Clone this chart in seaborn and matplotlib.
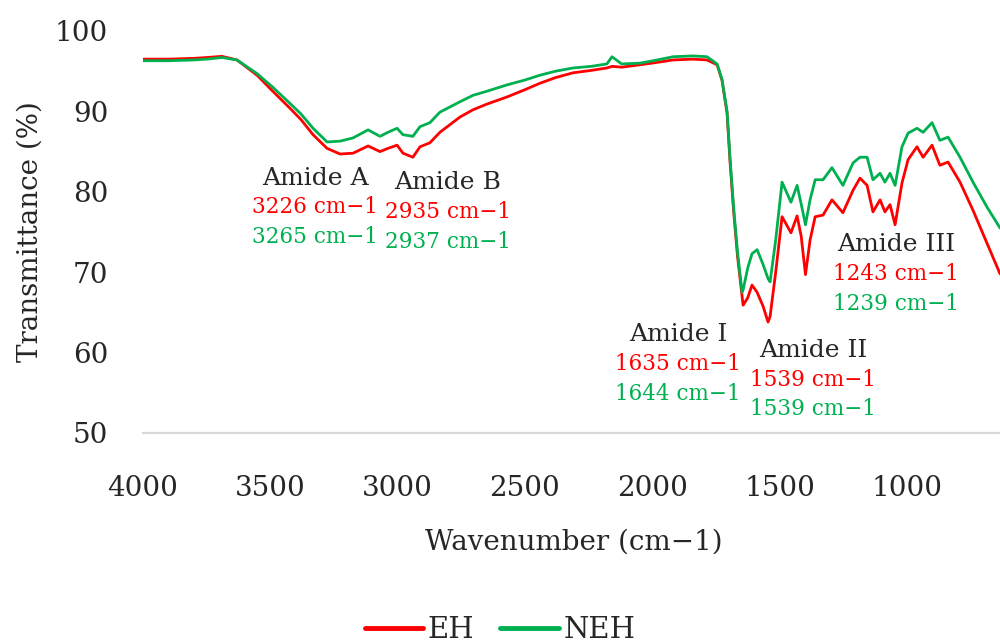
import matplotlib
matplotlib.use("Agg")
import matplotlib.pyplot as plt
import seaborn as sns
import pandas as pd

# ---- data ----
wavenumber = [4000, 3900, 3800, 3750, 3690, 3631, 3552, 3490, 3423, 3380, 3332, 3277, 3226, 3175,
              3116, 3069, 3038, 3002, 2979, 2940, 2912, 2873, 2834, 2755, 2704, 2650, 2570, 2500,
              2441, 2380, 2311, 2240, 2178, 2158, 2120, 2048, 1980, 1918, 1840, 1785, 1745, 1726,
              1706, 1694, 1680, 1665, 1647, 1643, 1625, 1608, 1588, 1565, 1545, 1537, 1515, 1490,
              1455, 1431, 1415, 1398, 1380, 1360, 1329, 1294, 1251, 1211, 1184, 1156, 1133, 1105,
              1086, 1066, 1046, 1019, 995, 960, 936, 901, 870, 838, 791, 740, 685, 634]

eh = [96.5, 96.5, 96.6, 96.7, 96.85, 96.4, 94.5, 92.5, 90.4, 89.0, 87.1, 85.4, 84.7, 84.8,
      85.7, 85.0, 85.4, 85.8, 84.8, 84.3, 85.6, 86.1, 87.4, 89.3, 90.2, 90.9, 91.8, 92.7,
      93.5, 94.2, 94.8, 95.1, 95.4, 95.6, 95.5, 95.8, 96.1, 96.4, 96.5, 96.4, 95.8, 93.9,
      89.8, 83.6, 77.5, 72.0, 67.0, 65.9, 66.8, 68.4, 67.5, 65.8, 63.8, 64.5, 70.0, 76.9,
      74.9, 77.0, 74.5, 69.7, 74.0, 76.9, 77.1, 79.0, 77.4, 80.2, 81.7, 80.8, 77.5, 79.0,
      77.5, 78.4, 75.9, 81.1, 84.0, 85.6, 84.3, 85.8, 83.3, 83.7, 81.2, 77.7, 73.6, 69.8]

neh = [96.3, 96.3, 96.4, 96.5, 96.7, 96.4, 94.7, 93.0, 91.0, 89.7, 87.9, 86.2, 86.3, 86.7,
       87.7, 86.9, 87.4, 87.9, 87.1, 86.9, 88.1, 88.6, 89.9, 91.2, 92.0, 92.5, 93.3, 93.9,
       94.5, 95.0, 95.4, 95.6, 95.9, 96.8, 95.9, 96.0, 96.4, 96.8, 96.9, 96.8, 95.9, 94.0,
       90.0, 84.0, 78.0, 72.5, 67.5, 67.8, 70.5, 72.3, 72.8, 71.0, 69.2, 68.8, 74.0, 81.2,
       78.7, 80.8, 78.5, 75.9, 79.0, 81.5, 81.5, 83.0, 80.8, 83.6, 84.3, 84.3, 81.5, 82.3,
       81.2, 82.3, 80.8, 85.6, 87.3, 87.9, 87.4, 88.6, 86.4, 86.8, 84.3, 81.2, 78.1, 75.5]

series_names = ["EH", "NEH"]
x_ticks = [4000, 3500, 3000, 2500, 2000, 1500, 1000]
y_ticks = [50, 60, 70, 80, 90, 100]

# annotation blocks: (title, red text, green text, x, y of title)
annot_titles = ["Amide A", "Amide B", "Amide I", "Amide II", "Amide III"]
annot_eh = ["3226 cm\u22121", "2935 cm\u22121", "1635 cm\u22121", "1539 cm\u22121", "1243 cm\u22121"]
annot_neh = ["3265 cm\u22121", "2937 cm\u22121", "1644 cm\u22121", "1539 cm\u22121", "1239 cm\u22121"]
annot_x = [3324, 2802, 1899, 1368, 1042]
annot_y = [81.7, 81.1, 62.2, 60.3, 73.4]

RED = "#ff0000"
GREEN = "#00b050"

df = pd.DataFrame({
    "wavenumber": wavenumber * 2,
    "T": eh + neh,
    "sample": [series_names[0]] * len(eh) + [series_names[1]] * len(neh),
})

sns.set_style("white")
plt.rcParams["font.family"] = ["DejaVu Serif"]

fig = plt.figure(figsize=(10, 6.43), dpi=100)
ax = fig.add_axes([0.143, 1 - 433 / 643, 0.857, (433 - 31) / 643])

sns.lineplot(data=df, x="wavenumber", y="T", hue="sample",
             palette={"EH": RED, "NEH": GREEN}, estimator=None,
             linewidth=2.0, ax=ax)

ax.set_xlim(4000, 634)
ax.set_ylim(50, 100)
ax.set_xticks(x_ticks)
ax.set_yticks(y_ticks)
ax.tick_params(axis="x", length=0, pad=30, labelsize=20, colors="#262626")
ax.tick_params(axis="y", length=0, pad=25, labelsize=20, colors="#262626")
for s in ["top", "right", "left"]:
    ax.spines[s].set_visible(False)
ax.spines["bottom"].set_color("#d9d9d9")
ax.spines["bottom"].set_linewidth(1.6)
ax.set_xlabel("")
ax.set_ylabel("")
ax.grid(False)

# axis titles
fig.text(0.574, 1 - 542 / 643, "Wavenumber (cm\u22121)", ha="center", va="center",
         fontsize=20, color="#262626")
fig.text(0.030, 1 - 232 / 643, "Transmittance (%)", ha="center", va="center",
         rotation=90, fontsize=20, color="#262626")

# annotations
dy_line = 3.65
for t, r, g, x, y in zip(annot_titles, annot_eh, annot_neh, annot_x, annot_y):
    ax.text(x, y, t, ha="center", va="center", fontsize=18, color="#262626")
    ax.text(x, y - dy_line, r, ha="center", va="center", fontsize=15.5, color=RED)
    ax.text(x, y - 2 * dy_line, g, ha="center", va="center", fontsize=15.5, color=GREEN)

# legend at bottom
handles, labels = ax.get_legend_handles_labels()
if ax.get_legend() is not None:
    ax.get_legend().remove()
leg = fig.legend(handles, labels, loc="center", bbox_to_anchor=(0.50, 1 - 630 / 643),
                 ncol=2, frameon=False, fontsize=21, handlelength=2.0,
                 handletextpad=0.15, columnspacing=0.9)
for line in leg.get_lines():
    line.set_linewidth(3.5)
for txt in leg.get_texts():
    txt.set_color("#262626")

fig.savefig("out.png", dpi=100)
